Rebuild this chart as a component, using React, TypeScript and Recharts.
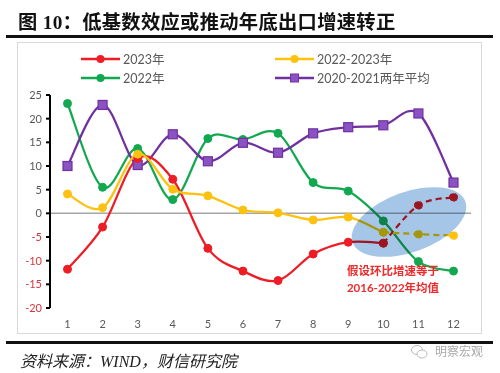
import { LineChart, Line, XAxis, YAxis, ReferenceLine } from 'recharts';

const months = ['1', '2', '3', '4', '5', '6', '7', '8', '9', '10', '11', '12'];
const y2023 = [-11.8, -2.9, 11.6, 7.2, -7.4, -12.2, -14.2, -8.6, -6.1, -6.3, null, null];
const y2023Proj = [null, null, null, null, null, null, null, null, null, -6.3, 1.7, 3.4];
const y2223 = [4.1, 1.2, 12.5, 5.1, 3.7, 0.7, 0.1, -1.4, -0.8, -4.0, null, null];
const y2223Proj = [null, null, null, null, null, null, null, null, null, -4.0, -4.4, -4.7];
const y2022 = [23.2, 5.5, 13.7, 2.9, 15.8, 15.6, 16.9, 6.5, 4.7, -1.6, -10.2, -12.2];
const y2021avg = [10.0, 22.9, 10.2, 16.7, 11.0, 14.9, 12.8, 16.9, 18.2, 18.6, 21.1, 6.5];
const yTicks = [-20, -15, -10, -5, 0, 5, 10, 15, 20, 25];

const RED = '#ee1c25';
const YELLOW = '#fcc20f';
const GREEN = '#12a84f';
const PURPLE = '#7030a0';

const chartData = months.map((m, i) => ({
    month: m,
    a: y2023[i],
    aProj: y2023Proj[i],
    b: y2223[i],
    bProj: y2223Proj[i],
    c: y2022[i],
    d: y2021avg[i],
}));

// Excel-like smoothing (Catmull-Rom)
const smooth = (context: any) => {
    let pts: number[][] = [];
    return {
        areaStart() {},
        areaEnd() {},
        lineStart() { pts = []; },
        point(x: number, y: number) { pts.push([+x, +y]); },
        lineEnd() {
            if (!pts.length) return;
            context.moveTo(pts[0][0], pts[0][1]);
            for (let i = 0; i < pts.length - 1; i++) {
                const p0 = pts[i - 1] || pts[i];
                const p1 = pts[i];
                const p2 = pts[i + 1];
                const p3 = pts[i + 2] || p2;
                context.bezierCurveTo(
                    p1[0] + (p2[0] - p0[0]) / 6, p1[1] + (p2[1] - p0[1]) / 6,
                    p2[0] - (p3[0] - p1[0]) / 6, p2[1] - (p3[1] - p1[1]) / 6,
                    p2[0], p2[1]
                );
            }
        },
    };
};

const font = "Lato, 'Noto Sans CJK SC', sans-serif";

const YTick = ({ x, y, payload }: any) => (
    <text x={x - 2} y={y} dy={4} textAnchor="end" fontSize={11} fontFamily={font}
        fill={payload.value < 0 ? '#d9363e' : '#595959'}>
        {payload.value}
    </text>
);

const legendItems = [
    { name: '2023年', color: RED, shape: 'circle', x: 81, y: 59 },
    { name: '2022-2023年', color: YELLOW, shape: 'circle', x: 275, y: 59 },
    { name: '2022年', color: GREEN, shape: 'circle', x: 81, y: 78 },
    { name: '2020-2021两年平均', color: PURPLE, shape: 'square', x: 275, y: 78 },
];

const LegendBox = () => (
    <svg width={500} height={100} style={{ position: 'absolute', left: 0, top: 0 }}>
        {legendItems.map((it) => (
            <g key={it.name}>
                <line x1={it.x} x2={it.x + 39} y1={it.y} y2={it.y} stroke={it.color} strokeWidth={2.5} />
                {it.shape === 'circle' ? (
                    <circle cx={it.x + 19.5} cy={it.y} r={4} fill={it.color} />
                ) : (
                    <rect x={it.x + 15.5} y={it.y - 4} width={8} height={8} fill="#8a52c2" stroke={PURPLE} strokeWidth={1} />
                )}
                <text x={it.x + 42} y={it.y + 4.5} fontSize={12.5} fill="#595959" fontFamily={font}>{it.name}</text>
            </g>
        ))}
    </svg>
);

const Square = ({ cx, cy }: any) => (
    <rect x={cx - 4.5} y={cy - 4.5} width={9} height={9} fill="#8a52c2" stroke={PURPLE} strokeWidth={1.2} />
);

export default function App() {
    return (
        <div style={{ position: 'absolute', left: 0, top: 0, width: 500, height: 373, background: '#fff', overflow: 'hidden' }}>
            <div style={{ position: 'absolute', left: 18, top: 7, fontSize: 19.3, fontWeight: 'bold', letterSpacing: 0.3, whiteSpace: 'nowrap', fontFamily: "'Liberation Serif', 'Noto Sans CJK SC', serif", color: '#111' }}>
                图 10：低基数效应或推动年底出口增速转正
            </div>
            <div style={{ position: 'absolute', left: 6, top: 35, width: 487, height: 2.5, background: '#111' }} />
            <div style={{ position: 'absolute', left: 17, top: 42, width: 463, height: 290, border: '1.5px solid #d9d9d9' }} />
            <div style={{ position: 'absolute', left: 0, top: 0 }}>
                <LineChart width={500} height={373} data={chartData} margin={{ top: 95, right: 29, bottom: 45, left: 10 }}>
                    <XAxis dataKey="month" axisLine={false} tickLine={false} height={20} tickMargin={6}
                        padding={{ left: 17.5, right: 17.5 }}
                        tick={{ fontSize: 11, fill: '#595959', fontFamily: font }} interval={0} />
                    <YAxis domain={[-20, 25]} ticks={yTicks} width={40} tick={<YTick />}
                        axisLine={{ stroke: '#000', strokeWidth: 2 }} tickLine={{ stroke: '#000', strokeWidth: 2 }} tickSize={4} />
                    <ReferenceLine y={0} stroke="#a6a6a6" strokeWidth={1.5} />
                    <Line dataKey="c" type={smooth as any} stroke={GREEN} strokeWidth={2.25} isAnimationActive={false}
                        dot={{ r: 4, fill: GREEN, stroke: GREEN, strokeWidth: 1 }} />
                    <Line dataKey="d" type={smooth as any} stroke={PURPLE} strokeWidth={2.25} isAnimationActive={false}
                        dot={<Square />} />
                    <Line dataKey="a" type={smooth as any} stroke={RED} strokeWidth={2.25} isAnimationActive={false}
                        dot={{ r: 4, fill: RED, stroke: RED, strokeWidth: 1 }} />
                    <Line dataKey="aProj" type={smooth as any} stroke={RED} strokeWidth={2.25} strokeDasharray="6 4" isAnimationActive={false}
                        dot={{ r: 4, fill: RED, stroke: RED, strokeWidth: 1 }} />
                    <Line dataKey="b" type={smooth as any} stroke={YELLOW} strokeWidth={2.25} isAnimationActive={false}
                        dot={{ r: 4, fill: YELLOW, stroke: YELLOW, strokeWidth: 1 }} />
                    <Line dataKey="bProj" type={smooth as any} stroke={YELLOW} strokeWidth={2.25} strokeDasharray="6 4" isAnimationActive={false}
                        dot={{ r: 4, fill: YELLOW, stroke: YELLOW, strokeWidth: 1 }} />
                </LineChart>
            </div>
            <LegendBox />
            {/* highlight ellipse and annotation */}
            <svg width={500} height={373} style={{ position: 'absolute', left: 0, top: 0, mixBlendMode: 'multiply', pointerEvents: 'none' }}>
                <ellipse cx={409} cy={222} rx={60} ry={30} transform="rotate(-20 409 222)" fill="#a6c6e8" />
            </svg>
            <svg width={500} height={373} style={{ position: 'absolute', left: 0, top: 0, pointerEvents: 'none' }}>
                <text x={393} y={275} textAnchor="middle" fontSize={11.5} fontWeight="bold" fill="#ee2a2a" fontFamily={font}>假设环比增速等于</text>
                <text x={393} y={292} textAnchor="middle" fontSize={11.5} fontWeight="bold" fill="#ee2a2a" fontFamily={font}>2016-2022年均值</text>
            </svg>
            <div style={{ position: 'absolute', left: 6, top: 341, width: 487, height: 2.5, background: '#111' }} />
            <div style={{ position: 'absolute', left: 20, top: 348, fontSize: 16, fontStyle: 'italic', whiteSpace: 'nowrap', fontFamily: "'Liberation Serif', 'Noto Sans CJK SC', serif", color: '#222' }}>
                资料来源：WIND，财信研究院
            </div>
            <svg width={80} height={20} style={{ position: 'absolute', left: 410, top: 343 }}>
                <ellipse cx={7} cy={7} rx={5.5} ry={4.5} fill="none" stroke="#bbb" strokeWidth={1} />
                <ellipse cx={12} cy={11} rx={5} ry={4} fill="#fff" stroke="#bbb" strokeWidth={1} />
                <text x={25} y={13} fontSize={12} fill="#a8a8a8" fontFamily={font}>明察宏观</text>
            </svg>
        </div>
    );
}
